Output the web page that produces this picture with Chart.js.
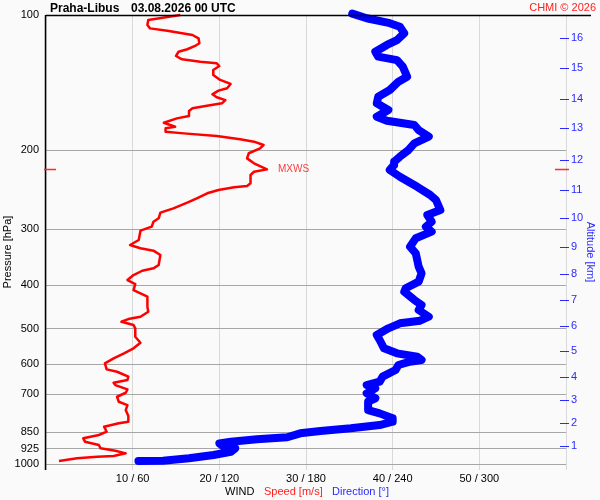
<!DOCTYPE html>
<html>
<head>
<meta charset="utf-8">
<script src="https://cdn.jsdelivr.net/npm/chart.js@4/dist/chart.umd.min.js"></script>
<style>
html,body{margin:0;padding:0;background:#fafafa;}
canvas{display:block;}
</style>
</head>
<body>
<canvas id="c" width="600" height="500"></canvas>
<script>
// ---- data ----
const stationTitle = 'Praha-Libus    03.08.2026 00 UTC';
const copyrightText = 'CHMI \u00A9 2026';
const pressureTicks = [100, 200, 300, 400, 500, 600, 700, 850, 925, 1000];
const speedTicks = [0, 10, 20, 30, 40, 50, 60];
const altKm = [1, 2, 3, 4, 5, 6, 7, 8, 9, 10, 11, 12, 13, 14, 15, 16];
const altP = [910.5, 810.4, 720.2, 639.0, 560.3, 492.0, 431.2, 378.1, 328.1, 283.6, 245.3, 210.3, 178.8, 153.9, 131.4, 112.7];
const mxwsP = 220.7;

const speedP = [100,102.6,105.3,107.1,108.4,110.8,112.7,115.6,117.2,119.2,
  120.7,123.4,125.5,127.1,128.1,129.9,132.6,136.0,139.5,142.4,
  145.6,147.4,150.2,152.5,154.7,157.3,159.5,161.4,163.6,167.9,
  169.9,173.8,177.4,178.8,182.0,183.5,186.0,189.2,191.5,194.8,
  198.1,203.2,208.6,214.0,220.7,223.4,227.2,237.1,240.4,242.0,
  245.4,249.5,256.0,261.8,269.5,275.6,283.6,288.6,296.1,302.2,
  317.0,325.3,330.8,334.9,342.3,360.4,366.6,371.2,379.5,389.3,
  397.4,409.8,424.1,446.4,458.0,469.9,475.5,482.2,490.3,498.7,
  520.6,536.9,552.6,566.9,581.6,596.8,615.5,623.1,639.0,650.1,
  659.1,667.1,681.9,693.9,708.3,726.6,739.1,758.3,782.0,805.0,
  811.7,825.9,847.4,861.9,876.6,891.9,907.3,922.8,934.2,946.8,
  959.9,963.3,971.2,984.7];
const speed = [15.5,11.8,11.7,12.0,14.0,16.9,17.6,17.7,17.2,16.3,
  15.3,15.0,15.7,17.8,19.7,20.0,19.3,19.3,20.1,21.3,
  20.9,19.9,19.2,19.7,20.7,20.3,18.4,16.9,16.5,16.5,
  15.1,13.6,14.9,13.8,13.8,15.9,19.7,22.4,24.0,25.1,
  24.7,23.4,23.2,24.0,25.5,24.0,23.6,23.6,23.2,21.7,
  19.9,18.6,17.4,16.3,14.7,13.2,13.0,12.4,12.2,10.9,
  10.7,9.7,10.9,12.4,13.2,13.0,12.4,11.1,10.1,9.4,
  10.3,10.1,11.7,11.7,11.8,10.9,9.5,8.7,10.1,10.3,
  10.3,10.9,10.1,9.0,7.8,6.8,7.0,8.2,9.5,9.4,
  7.8,8.0,9.4,9.2,8.2,8.4,9.4,9.2,9.5,9.5,
  8.4,6.7,7.0,6.1,4.3,4.5,6.1,6.3,8.0,9.2,
  7.8,5.9,3.6,1.5];

const dirP = [99.3,101.7,104.3,106.2,109.8,113.7,116.6,120.7,123.8,126.0,
  130.3,137.2,140.8,146.9,152.1,157.3,162.8,168.5,172.0,175.8,
  180.4,186.6,193.1,199.8,206.8,212.2,215.8,221.4,229.2,241.3,
  251.7,258.2,271.9,278.9,288.6,296.1,303.8,314.3,328.1,339.4,
  351.3,363.6,376.2,392.6,406.1,413.3,431.2,442.4,454.0,469.9,
  479.6,486.1,498.7,516.1,529.5,552.6,566.9,576.8,586.7,591.8,
  601.9,617.5,639.0,655.6,667.1,678.5,696.1,714.0,726.6,758.3,
  771.3,791.3,805.0,818.8,832.9,844.4,854.4,872.0,881.0,891.9,
  900.2,909.6,922.8,939.0,955.0,971.2,983.3,984.7];
const direction = [212,222,238,245,248,243,236,228,230,243,
  247,250,244,238,230,229,237,229,236,255,
  258,265,255,251,245,241,241,238,245,257,
  266,270,273,264,267,263,267,256,252,256,
  257,258,260,258,249,248,255,260,258,265,
  259,245,237,229,231,234,243,257,260,252,
  244,242,233,231,222,228,222,228,223,223,
  231,240,240,231,211,190,176,167,146,128,
  120,122,131,128,116,99,81,64];

// ---- chart ----
const FONT = 'Arial, "Liberation Sans", Helvetica, sans-serif';
const RED = '#ff0000';
const BLUE = '#0000ff';
const LBLUE = '#2a2aff';

const decor = {
  id: 'decor',
  beforeDraw(chart) {
    const c = chart.ctx;
    c.save();
    c.fillStyle = '#fafafa';
    c.fillRect(0, 0, chart.width, chart.height);
    c.restore();
  },
  afterDraw(chart) {
    const c = chart.ctx;
    const a = chart.chartArea;
    const ys = chart.scales.y;
    const xs = chart.scales.xs;
    const ya = chart.scales.yAlt;
    c.save();
    // top border and left axis
    c.strokeStyle = '#000';
    c.lineWidth = 1.5;
    c.beginPath();
    c.moveTo(a.left, a.top + 0.5); c.lineTo(591, a.top + 0.5);
    c.moveTo(a.left - 0.5, a.top); c.lineTo(a.left - 0.5, a.bottom + 6);
    c.stroke();
    // altitude ticks
    c.strokeStyle = LBLUE;
    c.lineWidth = 1.2;
    c.beginPath();
    altP.forEach(p => {
      const y = Math.round(ya.getPixelForValue(p)) + 0.5;
      c.moveTo(a.right - 6, y); c.lineTo(a.right + 3, y);
    });
    c.stroke();
    // MXWS markers
    const my = Math.round(ys.getPixelForValue(mxwsP)) + 0.5;
    c.strokeStyle = '#ff2a2a';
    c.lineWidth = 1.5;
    c.beginPath();
    c.moveTo(a.left - 2, my); c.lineTo(a.left + 10, my);
    c.moveTo(a.right - 11, my); c.lineTo(a.right + 3, my);
    c.stroke();
    c.fillStyle = '#ff3c3c';
    c.font = '10px ' + FONT;
    c.textBaseline = 'middle';
    c.textAlign = 'left';
    c.fillText('MXWS', xs.getPixelForValue(25.5) + 11, my);
    // title
    c.fillStyle = '#000';
    c.font = 'bold 12px ' + FONT;
    c.textBaseline = 'alphabetic';
    c.fillText('Praha-Libus', 50, 12);
    c.fillText('03.08.2026 00 UTC', 131, 12);
    c.fillStyle = '#ff2020';
    c.font = '11px ' + FONT;
    c.textAlign = 'right';
    c.fillText(copyrightText, 596, 11);
    // bottom legend
    c.textAlign = 'left';
    c.textBaseline = 'middle';
    c.fillStyle = '#000';
    c.fillText('WIND', 225, 492);
    c.fillStyle = '#ff2020';
    c.fillText('Speed [m/s]', 264, 492);
    c.fillStyle = LBLUE;
    c.fillText('Direction [\u00B0]', 332, 492);
    // axis titles
    c.save();
    c.translate(8, 252);
    c.rotate(-Math.PI / 2);
    c.textAlign = 'center';
    c.fillStyle = '#000';
    c.fillText('Pressure [hPa]', 0, 0);
    c.restore();
    c.save();
    c.translate(590, 252);
    c.rotate(Math.PI / 2);
    c.textAlign = 'center';
    c.fillStyle = LBLUE;
    c.fillText('Altitude [km]', 0, 0);
    c.restore();
    c.restore();
  }
};

new Chart(document.getElementById('c'), {
  type: 'line',
  data: {
    datasets: [
      {
        label: 'Direction',
        data: dirP.map((p, i) => ({ x: direction[i], y: p })),
        xAxisID: 'xd', yAxisID: 'y',
        borderColor: BLUE, backgroundColor: BLUE,
        borderWidth: 8, pointRadius: 0, tension: 0,
        borderJoinStyle: 'round', borderCapStyle: 'round',
        fill: false, clip: false
      },
      {
        label: 'Speed',
        data: speedP.map((p, i) => ({ x: speed[i], y: p })),
        xAxisID: 'xs', yAxisID: 'y',
        borderColor: RED, backgroundColor: RED,
        borderWidth: 2.5, pointRadius: 0, tension: 0,
        borderJoinStyle: 'round',
        fill: false, clip: false
      }
    ]
  },
  options: {
    responsive: false,
    animation: false,
    layout: { padding: { top: 15, left: 0, right: 0, bottom: 0 } },
    plugins: { legend: { display: false }, tooltip: { enabled: false } },
    scales: {
      xs: {
        type: 'linear', position: 'bottom', min: 0, max: 60,
        afterBuildTicks: s => { s.ticks = speedTicks.map(v => ({ value: v })); },
        ticks: {
          callback: v => (v > 0 && v < 60) ? (v + ' / ' + (v * 6)) : '',
          font: { family: FONT, size: 11 }, color: '#000',
          padding: 2, maxRotation: 0, autoSkip: false
        },
        grid: { color: '#d9d9d9', lineWidth: 1, tickLength: 6, drawTicks: true },
        border: { display: false },
        afterFit: s => { s.height = 36; }
      },
      xd: { type: 'linear', display: false, min: 0, max: 360 },
      y: {
        type: 'logarithmic', position: 'left', reverse: true, min: 100, max: 1000,
        afterBuildTicks: s => { s.ticks = pressureTicks.map(v => ({ value: v })); },
        ticks: {
          callback: v => String(v),
          font: { family: FONT, size: 11 }, color: '#000',
          padding: 7, autoSkip: false
        },
        grid: { color: '#a6a6a6', lineWidth: 1, drawTicks: false },
        border: { display: false },
        afterFit: s => { s.width = 46; }
      },
      yAlt: {
        type: 'logarithmic', position: 'right', reverse: true, min: 100, max: 1000,
        afterBuildTicks: s => { s.ticks = altP.map(v => ({ value: v })); },
        ticks: {
          callback: (v, i) => String(altKm[i]),
          font: { family: FONT, size: 11 }, color: LBLUE,
          padding: 5, autoSkip: false
        },
        grid: { display: false, drawTicks: false },
        border: { display: false },
        afterFit: s => { s.width = 34; }
      }
    }
  },
  plugins: [decor]
});
</script>
</body>
</html>
